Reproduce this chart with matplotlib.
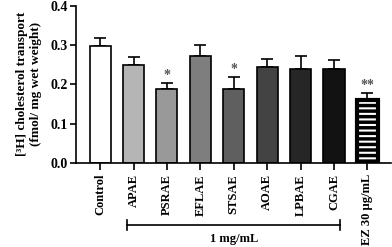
import matplotlib.pyplot as plt
import matplotlib.transforms as mtransforms

plt.rcParams['font.family'] = ['Liberation Serif', 'DejaVu Serif']
plt.rcParams['font.weight'] = 'bold'
plt.rcParams['axes.labelweight'] = 'bold'
plt.rcParams['hatch.linewidth'] = 1.5

# data
groups = ["Control", "APAE", "PSRAE", "EFLAE", "STSAE", "AOAE", "LPBAE", "CGAE", "EZ 30 µg/mL"]
means = [0.298, 0.250, 0.187, 0.272, 0.189, 0.245, 0.240, 0.238, 0.161]
errors = [0.020, 0.020, 0.017, 0.029, 0.029, 0.020, 0.033, 0.024, 0.017]
stars = ["", "", "*", "", "*", "", "", "", "**"]
colors = ["white", "#b5b5b5", "#999999", "#7e7e7e", "#5f5f5f", "#434343", "#262626", "#121212", "black"]
bracket_label = "1 mg/mL"

fig = plt.figure(figsize=(3.92, 2.47), dpi=100)
ax = fig.add_axes([0.194, 0.341, 0.803, 0.635])

x = list(range(len(groups)))
for i in x:
    if i == len(groups) - 1:
        # striped EZ bar: white hatch on black, then black outline
        ax.bar(i, means[i], width=0.63, color=colors[i], edgecolor="white",
               linewidth=0, hatch="---", zorder=2)
        ax.bar(i, means[i], width=0.63, color="none", edgecolor="black",
               linewidth=3, zorder=3)
    else:
        ax.bar(i, means[i], width=0.63, color=colors[i], edgecolor="black",
               linewidth=1.2, zorder=2)
    ax.errorbar(i, means[i], yerr=[[0], [errors[i]]], fmt="none",
                ecolor="black", elinewidth=1.2, capsize=4, capthick=1.2, zorder=1)
    if stars[i]:
        ax.text(i, means[i] + errors[i] + 0.003, stars[i], ha="center", va="bottom",
                fontsize=10, color="#555555")

ax.set_xlim(-0.72, 8.7)
ax.set_ylim(0, 0.4)
ax.set_yticks([0.0, 0.1, 0.2, 0.3, 0.4])
ax.set_yticklabels(["0.0", "0.1", "0.2", "0.3", "0.4"])
ax.set_xticks(x)
ax.set_xticklabels(groups, rotation=90, fontsize=9)
ax.tick_params(axis="y", labelsize=10, width=1.2, length=4, pad=2)
ax.tick_params(axis="x", width=1.2, length=5, pad=3)
for s in ["top", "right"]:
    ax.spines[s].set_visible(False)
for s in ["left", "bottom"]:
    ax.spines[s].set_linewidth(1.2)

ax.set_ylabel("[³H] cholesterol transport\n(fmol/ mg wet weight)", fontsize=9.5,
              fontweight="bold", labelpad=6)

# bracket under the extracts
trans = mtransforms.blended_transform_factory(ax.transData, fig.transFigure)
yb = 1 - 225 / 247
ax.plot([0.8, 7.17], [yb, yb], color="black", lw=1.2, transform=trans, clip_on=False)
for xe in [0.8, 7.17]:
    ax.plot([xe, xe], [yb - 0.02, yb + 0.02], color="black", lw=1.2, transform=trans, clip_on=False)
ax.text(4.0, 1 - 239 / 247, bracket_label, ha="center", va="center", fontsize=9, transform=trans)

fig.savefig("out.png", dpi=100)
